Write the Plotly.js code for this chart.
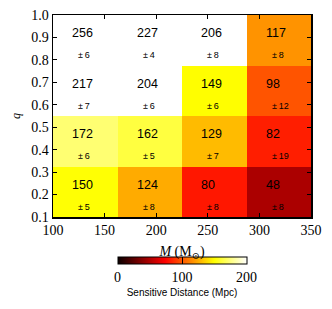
<!DOCTYPE html>
<html>
<head>
<meta charset="utf-8">
<script src="https://cdn.plot.ly/plotly-3.0.1.min.js"></script>
<style>html,body{margin:0;padding:0;background:#fff;}#chart{width:332px;height:309px;}</style>
</head>
<body>
<div id="chart"></div>
<script>
// Bin edges
var massEdges = [100, 162.5, 225, 287.5, 350];
var qEdges = [0.1, 0.325, 0.55, 0.775, 1.0];
// Sensitive distance (Mpc), rows from q low to high
var distRow1 = [150, 124, 80, 48];
var distRow2 = [172, 162, 129, 82];
var distRow3 = [217, 204, 149, 98];
var distRow4 = [256, 227, 206, 117];
// Uncertainties
var errRow1 = [5, 8, 8, 8];
var errRow2 = [6, 5, 7, 19];
var errRow3 = [7, 6, 6, 12];
var errRow4 = [6, 4, 8, 8];

var z = [distRow1, distRow2, distRow3, distRow4];
var errs = [errRow1, errRow2, errRow3, errRow4];

var hot = [[0, 'rgb(10,0,0)'], [0.365, 'rgb(255,0,0)'], [0.746, 'rgb(255,255,0)'], [1, 'rgb(255,255,255)']];

var annotations = [];
for (var i = 0; i < z.length; i++) {
  var yc = (qEdges[i] + qEdges[i + 1]) / 2;
  for (var j = 0; j < z[i].length; j++) {
    annotations.push({x: massEdges[j], y: yc, xref: 'x', yref: 'y', xanchor: 'left', yanchor: 'middle',
      xshift: 17, yshift: 7, text: String(z[i][j]), showarrow: false,
      font: {family: 'Liberation Sans, Arial, sans-serif', size: 12.5, color: '#000'}});
    annotations.push({x: massEdges[j], y: yc, xref: 'x', yref: 'y', xanchor: 'left', yanchor: 'middle',
      xshift: 23, yshift: -15, text: '±\u2009' + errs[i][j], showarrow: false,
      font: {family: 'Liberation Sans, Arial, sans-serif', size: 9, color: '#000'}});
  }
}

var trace = {
  type: 'heatmap', x: massEdges, y: qEdges, z: z,
  zmin: 0, zmax: 200, colorscale: hot, showscale: true, hoverinfo: 'skip',
  colorbar: {
    orientation: 'h', x: 0.5, xanchor: 'center', y: -0.19, yanchor: 'top',
    len: 0.5, lenmode: 'fraction', thickness: 7, xpad: 0, ypad: 0,
    outlinewidth: 1, outlinecolor: '#000',
    tickmode: 'array', tickvals: [0, 100, 200], ticks: 'inside', ticklen: 7, tickcolor: '#000', tickwidth: 1,
    tickfont: {family: 'Liberation Serif, DejaVu Serif, serif', size: 14, color: '#000'},
    title: {text: 'Sensitive Distance (Mpc)', side: 'bottom', font: {family: 'Liberation Sans, Arial, sans-serif', size: 10, color: '#000'}}
  }
};

var axisFont = {family: 'Liberation Serif, DejaVu Serif, serif', size: 14, color: '#000'};
var layout = {
  width: 332, height: 309,
  margin: {l: 53, r: 21, t: 15, b: 91},
  paper_bgcolor: '#fff', plot_bgcolor: '#fff',
  showlegend: false,
  xaxis: {range: [100, 350], tickmode: 'linear', tick0: 100, dtick: 50, ticks: 'inside', ticklen: 4,
    tickcolor: '#000', showline: true, linecolor: '#000', linewidth: 1.5, mirror: 'ticks', showgrid: false, zeroline: false,
    tickfont: axisFont,
    title: {text: '<i>M</i> (M<sub>⊙</sub>)', font: {family: 'Liberation Serif, DejaVu Serif, serif', size: 14, color: '#000'}, standoff: 9}},
  yaxis: {range: [0.1, 1.0], tickmode: 'linear', tick0: 0.1, dtick: 0.1, tickformat: '.1f', ticks: 'inside', ticklen: 4,
    tickcolor: '#000', showline: true, linecolor: '#000', linewidth: 1.5, mirror: 'ticks', showgrid: false, zeroline: false,
    tickfont: axisFont,
    title: {text: '<i>q</i>', font: {family: 'Liberation Serif, DejaVu Serif, serif', size: 12, color: '#000'}, standoff: 8}},
  annotations: annotations
};

Plotly.newPlot('chart', [trace], layout, {displayModeBar: false, staticPlot: true});
</script>
</body>
</html>
